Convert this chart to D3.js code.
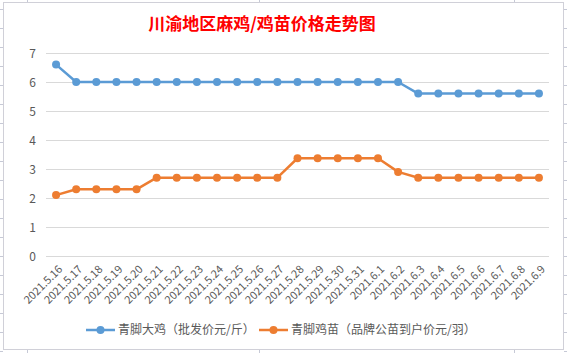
<!DOCTYPE html>
<html>
<head>
<meta charset="utf-8">
<title></title>
<script src="https://cdn.jsdelivr.net/npm/d3@7"></script>
<style type="text/css">
	body { margin: 0; background: #fff; }
	text { font-family: "Noto Sans CJK SC", "Noto Sans", sans-serif; }
	.axis text { fill: #595959; }
</style>
</head>
<body>
<script type="text/javascript">

var dates = ["2021.5.16","2021.5.17","2021.5.18","2021.5.19","2021.5.20","2021.5.21","2021.5.22",
	"2021.5.23","2021.5.24","2021.5.25","2021.5.26","2021.5.27","2021.5.28","2021.5.29","2021.5.30",
	"2021.5.31","2021.6.1","2021.6.2","2021.6.3","2021.6.4","2021.6.5","2021.6.6","2021.6.7","2021.6.8","2021.6.9"];

var chicken = [6.6,6,6,6,6,6,6,6,6,6,6,6,6,6,6,6,6,6,5.6,5.6,5.6,5.6,5.6,5.6,5.6];
var chick = [2.1,2.3,2.3,2.3,2.3,2.7,2.7,2.7,2.7,2.7,2.7,2.7,3.37,3.37,3.37,3.37,3.37,2.9,2.7,2.7,2.7,2.7,2.7,2.7,2.7];

var yTicks = [0,1,2,3,4,5,6,7];
var seriesNames = ["青脚大鸡（批发价元/斤）", "青脚鸡苗（品牌公苗到户价元/羽）"];
var colors = ["#5b9bd5", "#ed7d31"];

var width = 567, height = 353;

var svg = d3.select('body').append('svg')
	.attr('width', width)
	.attr('height', height);

// spreadsheet cell lines peeking out around the chart
var sheet = svg.append('g').attr('stroke', '#c6c9d6').attr('stroke-width', 1);
[27, 259, 514].forEach(function(x){
	sheet.append('line').attr('x1', x + .5).attr('x2', x + .5).attr('y1', 0).attr('y2', 3);
	sheet.append('line').attr('x1', x + .5).attr('x2', x + .5).attr('y1', 350).attr('y2', 353);
});
d3.range(9, 353, 19).forEach(function(y){
	sheet.append('line').attr('x1', 0).attr('x2', 3).attr('y1', y + .5).attr('y2', y + .5);
	sheet.append('line').attr('x1', 564).attr('x2', 567).attr('y1', y + .5).attr('y2', y + .5);
});

// chart frame
svg.append('rect')
	.attr('x', 3.5).attr('y', 2.5)
	.attr('width', 560).attr('height', 347)
	.attr('fill', '#fff')
	.attr('stroke', '#d0d0d8');

svg.append('text')
	.attr('x', 262).attr('y', 30)
	.attr('text-anchor', 'middle')
	.attr('fill', '#ff0000')
	.style('font-size', '17px')
	.style('font-weight', 'bold')
	.text('川渝地区麻鸡/鸡苗价格走势图');

var x = d3.scaleBand().domain(dates).range([46, 549]);
var y = d3.scaleLinear().domain([0, 7]).range([256, 53]);

// gridlines
svg.append('g')
	.selectAll('line')
	.data(yTicks)
	.enter().append('line')
	.attr('x1', 46).attr('x2', 549)
	.attr('y1', function(d){ return Math.round(y(d)) + .5; })
	.attr('y2', function(d){ return Math.round(y(d)) + .5; })
	.attr('stroke', '#d9d9d9')
	.attr('stroke-width', 1);

var yAxis = svg.append('g')
	.attr('class', 'axis')
	.attr('transform', 'translate(36,0)')
	.call(d3.axisLeft(y).tickValues(yTicks).tickFormat(d3.format('d')).tickSize(0).tickPadding(0));
yAxis.select('.domain').remove();
yAxis.selectAll('text').style('font-size', '12px').attr('dy', '0.35em');

var xAxis = svg.append('g')
	.attr('class', 'axis')
	.attr('transform', 'translate(0,256)')
	.call(d3.axisBottom(x).tickSize(0));
xAxis.select('.domain').remove();
xAxis.selectAll('text')
	.style('font-size', '11px')
	.attr('text-anchor', 'end')
	.attr('y', 0).attr('dy', 0)
	.attr('transform', 'translate(7,14) rotate(-45)');

var line = d3.line()
	.x(function(d, i){ return x(dates[i]) + x.bandwidth() / 2; })
	.y(function(d){ return y(d); });

[chicken, chick].forEach(function(s, k){
	svg.append('path')
		.datum(s)
		.attr('d', line)
		.attr('fill', 'none')
		.attr('stroke', colors[k])
		.attr('stroke-width', 2.5)
		.attr('stroke-linejoin', 'round');
	svg.append('g')
		.selectAll('circle')
		.data(s)
		.enter().append('circle')
		.attr('cx', function(d, i){ return x(dates[i]) + x.bandwidth() / 2; })
		.attr('cy', function(d){ return y(d); })
		.attr('r', 4)
		.attr('fill', colors[k]);
});

// legend
var legendX = [86, 259];
seriesNames.forEach(function(name, k){
	var g = svg.append('g').attr('transform', 'translate(' + legendX[k] + ',330)');
	g.append('line').attr('x1', 0).attr('x2', 29).attr('y1', 0).attr('y2', 0)
		.attr('stroke', colors[k]).attr('stroke-width', 2.5);
	g.append('circle').attr('cx', 14.5).attr('cy', 0).attr('r', 4).attr('fill', colors[k]);
	g.append('text').attr('x', 32).attr('y', 0).attr('dy', '0.35em')
		.attr('fill', '#595959')
		.style('font-size', '12px')
		.text(name);
});

</script>
</body>
</html>
